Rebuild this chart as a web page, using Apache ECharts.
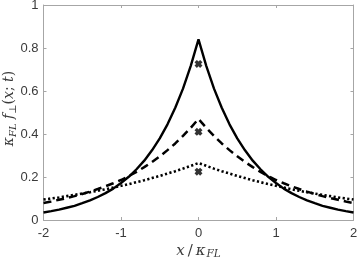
<!DOCTYPE html>
<html>
<head>
<meta charset="utf-8">
<script src="https://cdn.jsdelivr.net/npm/echarts@6/dist/echarts.min.js"></script>
<style>html,body{margin:0;padding:0;background:#fff}#c{width:357px;height:258px}</style>
</head>
<body>
<div id="c"></div>
<script>
const xs = [-2.0,-1.9,-1.8,-1.7,-1.6,-1.5,-1.4,-1.3,-1.2,-1.1,-1.0,-0.9,-0.8,-0.7,-0.6,-0.5,-0.4,-0.3,-0.2,-0.1,0.0,
            0.1,0.2,0.3,0.4,0.5,0.6,0.7,0.8,0.9,1.0,1.1,1.2,1.3,1.4,1.5,1.6,1.7,1.8,1.9,2.0];
const solidVals = [0.035,0.041,0.048,0.057,0.066,0.078,0.091,0.107,0.125,0.146,0.172,0.201,0.236,0.276,0.324,0.380,0.445,0.522,0.611,0.717,0.840,
                   0.717,0.611,0.522,0.445,0.380,0.324,0.276,0.236,0.201,0.172,0.146,0.125,0.107,0.091,0.078,0.066,0.057,0.048,0.041,0.035];
const dashedVals = [0.079,0.086,0.094,0.102,0.111,0.121,0.132,0.144,0.157,0.171,0.186,0.204,0.224,0.246,0.270,0.296,0.325,0.356,0.391,0.429,0.470,
                    0.429,0.391,0.356,0.325,0.296,0.270,0.246,0.224,0.204,0.186,0.171,0.157,0.144,0.132,0.121,0.111,0.102,0.094,0.086,0.079];
const dottedVals = [0.095,0.100,0.105,0.111,0.117,0.123,0.129,0.136,0.143,0.151,0.159,0.167,0.176,0.185,0.195,0.205,0.216,0.227,0.239,0.252,0.265,
                    0.252,0.239,0.227,0.216,0.205,0.195,0.185,0.176,0.167,0.159,0.151,0.143,0.136,0.129,0.123,0.117,0.111,0.105,0.100,0.095];
const markerX = [0, 0, 0];
const markerY = [0.726, 0.410, 0.225];
const xTicks = [-2, -1, 0, 1, 2];
const yTicks = [0, 0.2, 0.4, 0.6, 0.8, 1];

const pair = (vals) => xs.map((x, i) => [x, vals[i]]);
const axisColor = '#a6a6a6';
const labelColor = '#3a3a3a';
const serif = '"DejaVu Serif", "Liberation Serif", serif';
const crossPath = 'path://M0,3 L3,0 L5,2 L7,0 L10,3 L8,5 L10,7 L7,10 L5,8 L3,10 L0,7 L2,5 Z';

const chart = echarts.init(document.getElementById('c'), null, {renderer: 'canvas'});
const baseX = {
  type: 'value', min: -2, max: 2, interval: 1,
  axisLine: {show: true, onZero: false, lineStyle: {color: axisColor, width: 1}},
  axisTick: {show: true, inside: true, length: 3, lineStyle: {color: axisColor}},
  splitLine: {show: false}
};
const baseY = {
  type: 'value', min: 0, max: 1, interval: 0.2,
  axisLine: {show: true, onZero: false, lineStyle: {color: axisColor, width: 1}},
  axisTick: {show: true, inside: true, length: 3, lineStyle: {color: axisColor}},
  splitLine: {show: false}
};
const it = (size, extra) => Object.assign({fontFamily: serif, fontStyle: 'italic', fontSize: size, color: labelColor, lineHeight: 18}, extra);
chart.setOption({
  animation: false,
  grid: {left: 43.5, right: 3.5, top: 5, bottom: 38, containLabel: false, outerBoundsMode: 'none'},
  xAxis: [
    Object.assign({}, baseX, {
      position: 'bottom',
      axisLabel: {color: labelColor, fontSize: 13, fontFamily: '"Liberation Sans", Arial, sans-serif', margin: 7,
        formatter: v => xTicks.includes(v) ? String(v) : ''},
      name: '{a|x}{s|/}{a|κ}{b|FL}', nameLocation: 'middle', nameGap: 22, nameMoveOverlap: false,
      nameTextStyle: {
        rich: {
          a: it(15, {verticalAlign: 'middle'}),
          s: it(15, {verticalAlign: 'middle', fontStyle: 'normal', padding: [0, 3, 0, 3]}),
          b: it(10.5, {verticalAlign: 'bottom', padding: [0, 0, 0, 1]})
        }
      }
    }),
    Object.assign({}, baseX, {position: 'top', axisLabel: {show: false}})
  ],
  yAxis: [
    Object.assign({}, baseY, {
      position: 'left',
      axisLabel: {color: labelColor, fontSize: 13, fontFamily: '"Liberation Sans", Arial, sans-serif', margin: 5,
        formatter: v => yTicks.some(t => Math.abs(t - v) < 1e-9) ? String(+v.toFixed(1)) : ''},
      name: '{a|κ}{b|FL}{a| f}{b|⊥}{c|(}{a|x}{c|; }{a|t}{c|)}', nameLocation: 'middle', nameGap: 25, nameMoveOverlap: false,
      nameTextStyle: {
        padding: [0, 0, 0, 8],
        rich: {
          a: it(14, {verticalAlign: 'middle'}),
          b: it(10, {verticalAlign: 'bottom'}),
          c: it(14, {verticalAlign: 'middle', fontStyle: 'normal'})
        }
      }
    }),
    Object.assign({}, baseY, {position: 'right', axisLabel: {show: false}})
  ],
  series: [
    {type: 'line', data: pair(dottedVals), showSymbol: false, symbol: 'none',
     lineStyle: {color: '#000', width: 2.6, type: [2.2, 2.4], cap: 'butt'}, z: 2},
    {type: 'line', data: pair(dashedVals), showSymbol: false, symbol: 'none',
     lineStyle: {color: '#000', width: 2.5, type: [8, 5], cap: 'butt'}, z: 3},
    {type: 'line', data: pair(solidVals), showSymbol: false, symbol: 'none',
     lineStyle: {color: '#000', width: 2.4}, z: 4},
    {type: 'scatter', data: markerX.map((x, i) => [x, markerY[i]]), symbol: crossPath, symbolSize: 8,
     itemStyle: {color: '#000'}, z: 5}
  ]
});
</script>
</body>
</html>
